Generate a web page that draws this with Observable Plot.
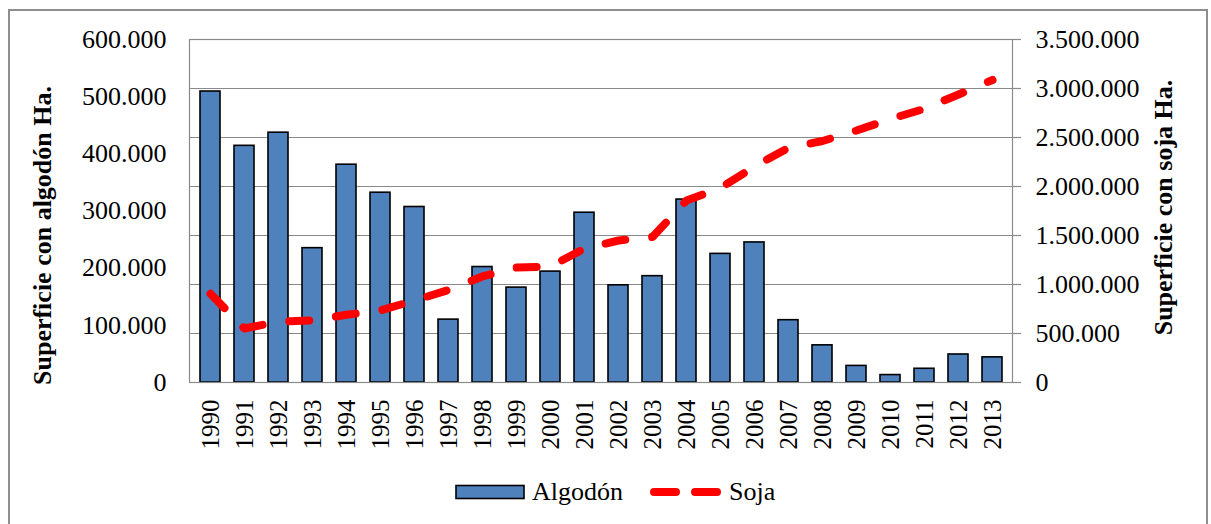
<!DOCTYPE html>
<html>
<head>
<meta charset="utf-8">
<script src="https://cdn.jsdelivr.net/npm/d3@7"></script>
<script src="https://cdn.jsdelivr.net/npm/@observablehq/plot@0.6"></script>
<style>
  html, body { margin: 0; padding: 0; background: #fff; overflow: hidden; }
  #wrap { position: relative; width: 1211px; height: 524px; font-family: "Liberation Serif", "Times New Roman", serif; }
  #border { position: absolute; left: 8px; top: 9px; width: 1200px; height: 600px; border: 2px solid #8e8e8e; box-sizing: border-box; }
  #chart { position: absolute; left: 0; top: 0; }
  #legend { position: absolute; left: 0; top: 470px; }
</style>
</head>
<body>
<div id="wrap">
  <div id="border"></div>
  <div id="chart"></div>
  <div id="legend"></div>
</div>
<script>
const years = [1990,1991,1992,1993,1994,1995,1996,1997,1998,1999,2000,2001,2002,2003,2004,2005,2006,2007,2008,2009,2010,2011,2012,2013];
const algodon = [509000,414000,437000,235000,381000,332000,307000,110000,202000,166000,194000,297000,170000,186000,320000,225000,245000,109000,65000,29000,13000,24000,49000,44000];
const soja = [905000,551000,622000,633000,691000,735000,837000,944000,1082000,1173000,1184000,1367000,1449000,1485000,1857000,1985000,2204000,2395000,2464000,2571000,2689000,2793000,2939000,3087000];
const leftTicks = [0,100000,200000,300000,400000,500000,600000];
const rightTicks = [0,500000,1000000,1500000,2000000,2500000,3000000,3500000];
const seriesNames = ["Algodón", "Soja"];
const leftTitle = "Superficie con algodón Ha.";
const rightTitle = "Superficie con soja Ha.";

const ratio = 600000 / 3500000;
const locale = d3.formatLocale({decimal: ",", thousands: ".", grouping: [3], currency: ["", ""]});
const fmt = locale.format(",d");

const data = years.map((y, i) => ({year: String(y), algodon: algodon[i], soja: soja[i], sojaScaled: soja[i] * ratio}));

const W = 1211, H = 470;
const mL = 189, mR = 199, mT = 39, mB = H - 382;
const fontFam = "'Liberation Serif', 'Times New Roman', serif";

const chart = Plot.plot({
  width: W,
  height: H,
  marginLeft: mL,
  marginRight: mR,
  marginTop: mT,
  marginBottom: mB,
  style: {fontFamily: fontFam, fontSize: "26px", color: "#000", background: "transparent", overflow: "visible"},
  x: {type: "band", domain: years.map(String), paddingInner: 0.42, paddingOuter: 0.21},
  y: {domain: [0, 600000]},
  marks: [
    Plot.gridY(rightTicks.map(v => v * ratio), {stroke: "#8a8a8a", strokeOpacity: 1, strokeWidth: 1.2}),
    Plot.barY(data, {x: "year", y: "algodon", fill: "#4F81BD", stroke: "#000", strokeWidth: 1.6}),
    Plot.frame({stroke: "#8a8a8a", strokeWidth: 1.2}),
    Plot.line(data, {x: "year", y: "sojaScaled", stroke: "#FF0000", strokeWidth: 8, strokeDasharray: "20,27", strokeLinecap: "round", strokeLinejoin: "round"}),
    Plot.axisY(leftTicks, {anchor: "left", tickSize: 0, tickPadding: 23, tickFormat: fmt, fontSize: 26, label: null}),
    Plot.axisY(rightTicks.map(v => v * ratio), {anchor: "right", tickSize: 8, tickPadding: 15, stroke: "#8a8a8a", strokeWidth: 1.2, tickFormat: d => fmt(Math.round(d / ratio)), fontSize: 26, label: null}),
    Plot.axisX({anchor: "bottom", tickSize: 0, tickPadding: 17, tickRotate: -90, fontSize: 25, label: null})
  ]
});
document.getElementById("chart").appendChild(chart);

// Axis titles
const svg = d3.select(chart);
svg.append("text")
  .attr("transform", "translate(51,235.5) rotate(-90)")
  .attr("text-anchor", "middle").attr("font-weight", "bold").attr("font-size", 26)
  .attr("font-family", fontFam).attr("fill", "#000").text(leftTitle);
svg.append("text")
  .attr("transform", "translate(1172,207.5) rotate(-90)")
  .attr("text-anchor", "middle").attr("font-weight", "bold").attr("font-size", 26)
  .attr("font-family", fontFam).attr("fill", "#000").text(rightTitle);

// Legend
const lg = d3.select("#legend").append("svg").attr("width", W).attr("height", 54)
  .style("font-family", fontFam);
const ly = 22; // center y within legend svg (492 absolute)
lg.append("rect").attr("x", 456).attr("y", ly - 6.5).attr("width", 68).attr("height", 13)
  .attr("fill", "#4F81BD").attr("stroke", "#000").attr("stroke-width", 1.6);
lg.append("text").attr("x", 532).attr("y", ly).attr("dy", "0.32em").attr("font-size", 26).text(seriesNames[0]);
lg.append("line").attr("x1", 654).attr("x2", 719).attr("y1", ly).attr("y2", ly)
  .attr("stroke", "#FF0000").attr("stroke-width", 8).attr("stroke-linecap", "round").attr("stroke-dasharray", "22,19");
lg.append("text").attr("x", 729).attr("y", ly).attr("dy", "0.32em").attr("font-size", 26).text(seriesNames[1]);
</script>
</body>
</html>
